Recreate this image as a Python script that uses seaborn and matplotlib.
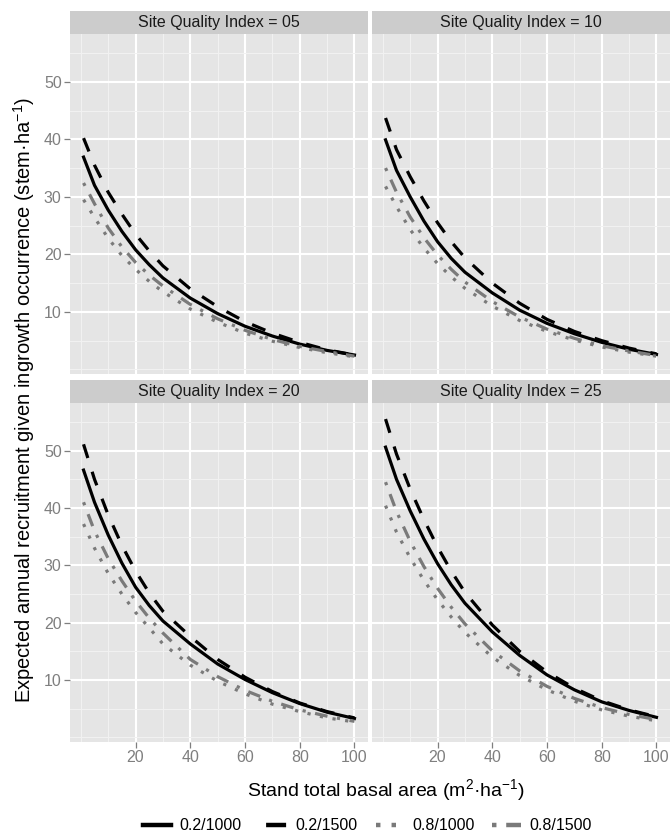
import pandas as pd
import matplotlib.pyplot as plt
import seaborn as sns
from matplotlib.lines import Line2D

# Stand total basal area (m2/ha) where the curves were read
basal_area = [1, 5, 10, 15, 20, 25, 30, 40, 50, 60, 70, 80, 90, 100]

groups = ['0.2/1000', '0.2/1500', '0.8/1000', '0.8/1500']
site_index = ['05', '10', '20', '25']

# Site Quality Index = 05
sqi05_a = [36.9, 32.0, 27.7, 24.0, 20.8, 18.2, 15.9, 12.4, 9.7, 7.5, 5.8, 4.4, 3.3, 2.5]
sqi05_b = [40.2, 35.5, 30.8, 27.0, 23.5, 20.6, 18.0, 14.0, 10.9, 8.3, 6.3, 4.7, 3.4, 2.5]
sqi05_c = [29.5, 26.4, 22.8, 19.8, 17.4, 15.3, 13.5, 10.5, 8.2, 6.3, 4.9, 3.8, 2.9, 2.2]
sqi05_d = [32.4, 28.8, 24.6, 21.3, 18.6, 16.4, 14.5, 11.3, 8.8, 6.8, 5.2, 4.0, 3.1, 2.3]

# Site Quality Index = 10
sqi10_a = [39.9, 34.6, 30.0, 25.8, 22.2, 19.3, 16.9, 13.3, 10.3, 8.0, 6.2, 4.7, 3.5, 2.6]
sqi10_b = [43.7, 38.2, 33.5, 29.3, 25.5, 22.2, 19.4, 15.0, 11.5, 8.7, 6.6, 5.0, 3.7, 2.7]
sqi10_c = [31.8, 28.3, 24.3, 21.1, 18.4, 16.1, 14.1, 11.0, 8.5, 6.6, 5.1, 3.9, 3.0, 2.3]
sqi10_d = [35.0, 30.8, 26.5, 22.9, 19.9, 17.4, 15.2, 11.8, 9.1, 7.0, 5.4, 4.1, 3.2, 2.4]

# Site Quality Index = 20
sqi20_a = [46.6, 41.0, 35.3, 30.4, 26.2, 23.0, 20.3, 16.3, 12.8, 10.1, 7.8, 5.9, 4.4, 3.3]
sqi20_b = [51.1, 45.0, 38.8, 33.5, 29.0, 25.2, 22.0, 17.6, 13.6, 10.5, 8.0, 6.0, 4.5, 3.4]
sqi20_c = [37.2, 33.0, 28.6, 25.0, 21.8, 19.1, 16.3, 12.6, 9.8, 7.6, 5.8, 4.5, 3.4, 2.7]
sqi20_d = [41.0, 36.0, 31.2, 27.3, 23.8, 20.8, 18.2, 13.6, 10.6, 8.2, 6.3, 4.8, 3.7, 2.8]

# Site Quality Index = 25
sqi25_a = [50.6, 45.0, 39.5, 34.6, 30.3, 26.6, 23.4, 18.4, 14.3, 10.9, 8.3, 6.2, 4.7, 3.5]
sqi25_b = [55.5, 49.4, 43.3, 38.0, 33.2, 29.0, 25.3, 19.6, 15.0, 11.4, 8.6, 6.4, 4.8, 3.6]
sqi25_c = [40.4, 35.8, 31.3, 27.4, 24.0, 21.0, 18.3, 14.0, 10.8, 8.3, 6.3, 4.8, 3.7, 2.9]
sqi25_d = [44.5, 39.4, 34.2, 29.8, 26.0, 22.7, 19.8, 15.1, 11.6, 8.9, 6.8, 5.2, 4.0, 3.1]

curves = {
    '05': [sqi05_a, sqi05_b, sqi05_c, sqi05_d],
    '10': [sqi10_a, sqi10_b, sqi10_c, sqi10_d],
    '20': [sqi20_a, sqi20_b, sqi20_c, sqi20_d],
    '25': [sqi25_a, sqi25_b, sqi25_c, sqi25_d],
}

rows = []
for sqi in site_index:
    for grp, vals in zip(groups, curves[sqi]):
        for x, y in zip(basal_area, vals):
            rows.append({'SQI': sqi, 'Group': grp, 'BA': x, 'Recruit': y})
df = pd.DataFrame(rows)

colors = {'0.2/1000': 'black', '0.2/1500': 'black',
          '0.8/1000': '#7A7A7A', '0.8/1500': '#7A7A7A'}
dash_map = {'0.2/1000': '', '0.2/1500': (4.5, 4.5),
            '0.8/1000': (1, 3), '0.8/1500': (1, 3, 4, 3)}

plt.rcParams['font.family'] = ['Liberation Sans', 'DejaVu Sans']
plt.rcParams['mathtext.fontset'] = 'custom'
plt.rcParams['mathtext.rm'] = 'Liberation Sans'

W, H = 670, 835
fig = plt.figure(figsize=(W / 100, H / 100), dpi=100)

# panel boxes in pixels: (left, top, right, bottom)
panel_px = {
    '05': (70, 34, 368, 374),
    '10': (372, 34, 670, 374),
    '20': (70, 403, 368, 742),
    '25': (372, 403, 670, 742),
}
strip_h = 23
lw = 2.3

for i, sqi in enumerate(site_index):
    l, t, r, b = panel_px[sqi]
    ax = fig.add_axes([l / W, 1 - b / H, (r - l) / W, (b - t) / H])
    sns.lineplot(data=df[df['SQI'] == sqi], x='BA', y='Recruit', hue='Group',
                 style='Group', palette=colors, dashes=dash_map, linewidth=lw,
                 legend=False, ax=ax)
    ax.set_facecolor('#E5E5E5')
    for s in ax.spines.values():
        s.set_visible(False)
    ax.set_xlim(-3.95, 104.95)
    ax.set_ylim(-0.8, 58.3)
    ax.set_xticks([20, 40, 60, 80, 100])
    ax.set_yticks([10, 20, 30, 40, 50])
    ax.set_xticks([0, 10, 30, 50, 70, 90], minor=True)
    ax.set_yticks([0, 5, 15, 25, 35, 45, 55], minor=True)
    ax.set_axisbelow(True)
    ax.grid(which='major', color='white', linewidth=1.5)
    ax.grid(which='minor', color='#F2F2F2', linewidth=0.7)
    ax.tick_params(which='minor', length=0)
    ax.tick_params(which='major', length=4, width=0.9, color='#7F7F7F',
                   labelcolor='#7F7F7F', labelsize=11.5, pad=2)
    ax.set_xlabel('')
    ax.set_ylabel('')
    if i < 2:
        ax.tick_params(axis='x', bottom=False, labelbottom=False)
    if i % 2 == 1:
        ax.tick_params(axis='y', left=False, labelleft=False)

    # facet strip
    sax = fig.add_axes([l / W, 1 - t / H, (r - l) / W, strip_h / H])
    sax.set_facecolor('#CCCCCC')
    sax.set_xticks([])
    sax.set_yticks([])
    for s in sax.spines.values():
        s.set_visible(False)
    sax.text(0.5, 0.5, 'Site Quality Index = ' + sqi, ha='center', va='center',
             fontsize=11.5, color='#1A1A1A', transform=sax.transAxes)

fig.text(24 / W, 1 - 400 / H,
         'Expected annual recruitment given ingrowth occurrence (stem\u00b7ha$\\mathregular{^{-1}}$)',
         rotation=90, ha='center', va='center', fontsize=14.5)
fig.text(386 / W, 1 - 790 / H,
         'Stand total basal area (m$\\mathregular{^2}$\u00b7ha$\\mathregular{^{-1}}$)',
         ha='center', va='center', fontsize=14.0)

# legend keys: short samples like the reference (one dash, two dots, dot+dash)
key_dashes = {'0.2/1000': (None, None), '0.2/1500': (0, 1.6, 4.5, 10),
              '0.8/1000': (1, 2.5), '0.8/1500': (1, 2.2, 4, 10)}
handles = [Line2D([], [], color=colors[g], linewidth=3.2, dashes=key_dashes[g])
           for g in groups]
fig.legend(handles, groups, loc='center', bbox_to_anchor=(367 / W, 1 - 826 / H),
           ncol=4, frameon=False, fontsize=11.5, handlelength=1.8,
           columnspacing=1.1, handletextpad=0.5)

fig.savefig('out.png', dpi=100)
